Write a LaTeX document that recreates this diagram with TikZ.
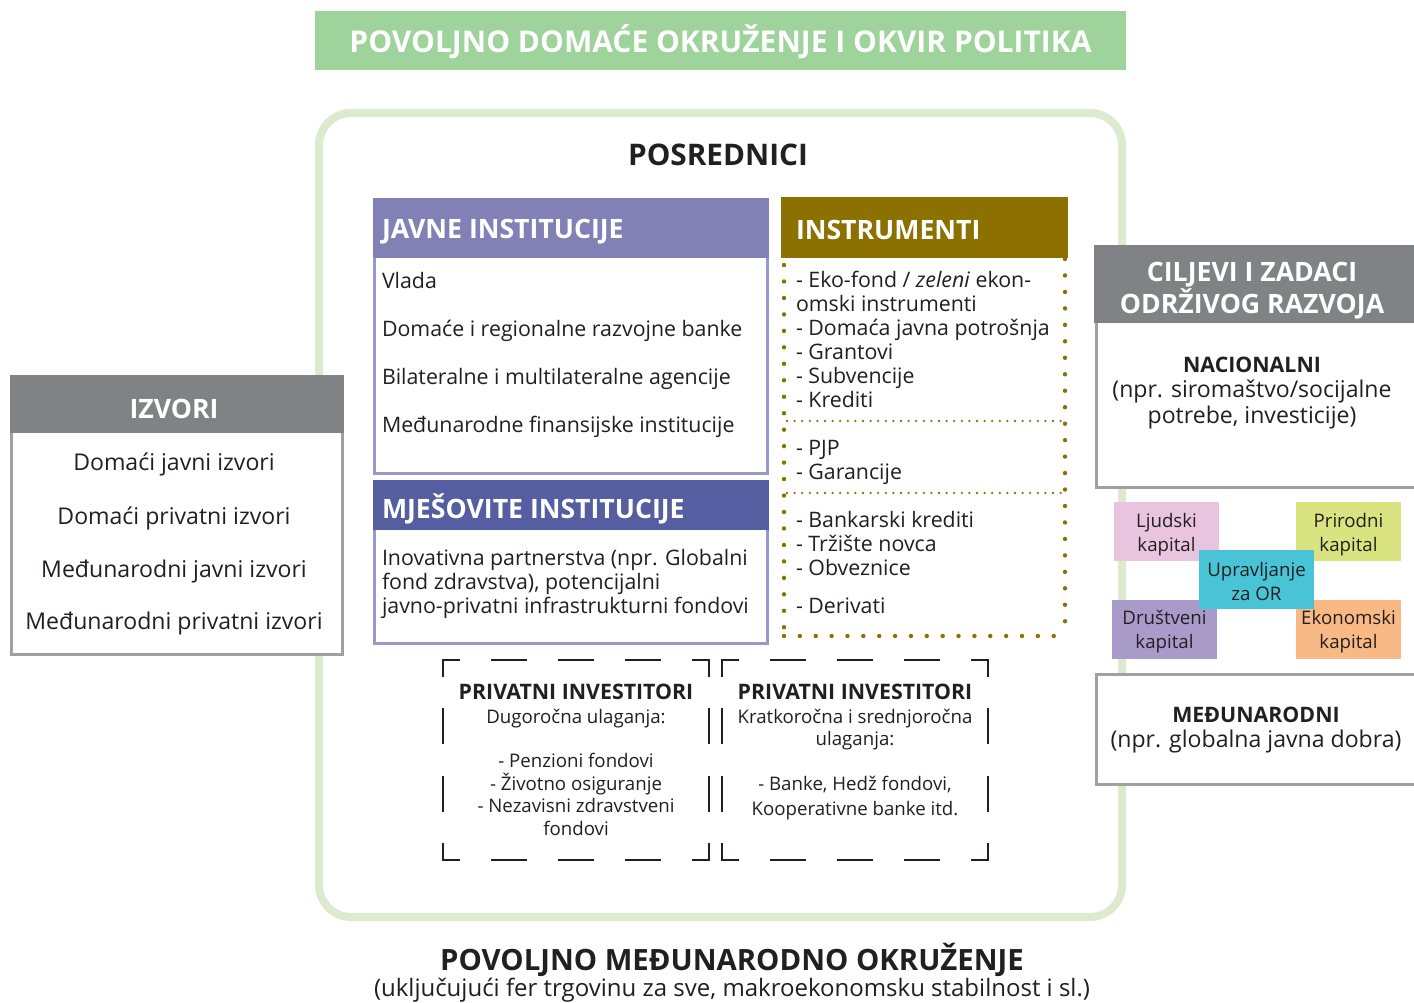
\documentclass[tikz,border=0pt]{standalone}
\usepackage{fontspec}
\setmainfont{Open Sans}
\definecolor{txt}{HTML}{231F20}
\definecolor{bannergreen}{HTML}{9ED39B}
\definecolor{framegreen}{HTML}{DCEBD0}
\definecolor{javnehead}{HTML}{8181B6}
\definecolor{javneline}{HTML}{9898CB}
\definecolor{mjeshead}{HTML}{545EA0}
\definecolor{instr}{HTML}{8C7000}
\definecolor{grayhead}{HTML}{808285}
\definecolor{grayline}{HTML}{A0A0A3}
\definecolor{ljud}{HTML}{E8C4DE}
\definecolor{prir}{HTML}{D9E380}
\definecolor{uprav}{HTML}{48C4D6}
\definecolor{drus}{HTML}{A99BC9}
\definecolor{ekon}{HTML}{F9B985}
\tikzset{
  txtnode/.style={inner sep=0pt, outer sep=0pt, text=txt},
  body/.style={txtnode, font=\fontsize{16}{18}\selectfont},
  smalltxt/.style={txtnode, font=\fontsize{14}{17}\selectfont},
  midtxt/.style={txtnode, font=\fontsize{17.3}{20}\selectfont},
  midbold/.style={txtnode, font=\fontsize{16}{20}\selectfont\bfseries},
  boxhead/.style={inner sep=0pt, outer sep=0pt, text=white, font=\fontsize{20}{24}\selectfont\bfseries},
  captxt/.style={txtnode, align=center, font=\fontsize{14}{18}\selectfont},
  bigdots/.style={instr, line width=3.3pt, line cap=round},
  smalldots/.style={instr, line width=1.9pt, line cap=round, dash pattern=on 0pt off 5.7pt},
  dashside/.style={txt, line width=1.5pt, line cap=rect},
  hdash/.style={dashside, dash pattern=on 12pt off 24.75pt on 25.5pt off 24.75pt on 25.5pt off 24.75pt on 25.5pt off 24.75pt on 12pt off 100pt},
  vdash/.style={dashside, dash pattern=on 12pt off 25pt on 25.5pt off 25pt on 25.5pt off 25pt on 12pt off 100pt},
}
\newcommand\mydashbox[4]{%
  \draw[hdash] (#1,#2) -- (#3,#2);
  \draw[hdash] (#1,#4) -- (#3,#4);
  \draw[vdash] (#1,#2) -- (#1,#4);
  \draw[vdash] (#3,#2) -- (#3,#4);
}
\begin{document}
\begin{tikzpicture}[x=0.75pt,y=-0.75pt]
\useasboundingbox (0,0) rectangle (1414,1003);
\fill[white] (0,0) rectangle (1414,1003);

% top banner
\fill[bannergreen] (315,11) rectangle (1126,70);
\node[inner sep=0pt, text=white, anchor=base, font=\fontsize{22.5}{24}\selectfont\bfseries] (banner) at (720.5,52) {POVOLJNO DOMAĆE OKRUŽENJE I OKVIR POLITIKA};

% frame
\draw[framegreen, line width=6pt, rounded corners=24pt] (319,113) rectangle (1122,917);
\node[txtnode, anchor=base, font=\fontsize{22.3}{24}\selectfont\bfseries] (posr) at (718,165) {POSREDNICI};

% JAVNE INSTITUCIJE
\draw[javneline, line width=2.25pt, fill=white] (374.5,199.5) rectangle (767.5,473.5);
\fill[javnehead] (373,198) rectangle (769,258);
\node[boxhead, anchor=base west] (javneh) at (382,238) {JAVNE INSTITUCIJE};
\node[body, anchor=base west] (j1) at (382,288) {Vlada};
\node[body, anchor=base west] (j2) at (382,336) {Domaće i regionalne razvojne banke};
\node[body, anchor=base west] (j3) at (382,384) {Bilateralne i multilateralne agencije};
\node[body, anchor=base west] (j4) at (382,432) {Međunarodne finansijske institucije};

% MJESOVITE
\draw[javneline, line width=2.25pt, fill=white] (374.5,481.5) rectangle (767.5,643.5);
\fill[mjeshead] (373,480) rectangle (769,530);
\node[boxhead, anchor=base west] (mjesh) at (382,518) {MJEŠOVITE INSTITUCIJE};
\node[body, anchor=base west] (m1) at (382,565) {Inovativna partnerstva (npr. Globalni};
\node[body, anchor=base west] (m2) at (382,589) {fond zdravstva), potencijalni};
\node[body, anchor=base west] (m3) at (382,613) {javno-privatni infrastrukturni fondovi};

% INSTRUMENTI
\fill[instr] (781,197) rectangle (1068,258);
\node[boxhead, anchor=base west] (instrh) at (796,239) {INSTRUMENTI};
\draw[bigdots, dash pattern=on 0pt off 12.35pt] (784,265) -- (784,636);
\draw[bigdots, dash pattern=on 0pt off 12.35pt] (1065,259) -- (1065,636);
\draw[bigdots, dash pattern=on 0pt off 11.9pt] (784,636) -- (1065,636);
\draw[smalldots] (787,421) -- (1062,421);
\draw[smalldots] (787,493) -- (1062,493);
\node[body, anchor=base west] (i1) at (796,287) {- Eko-fond / \textit{zeleni} ekon-};
\node[body, anchor=base west] (i2) at (796,311) {omski instrumenti};
\node[body, anchor=base west] (i3) at (796,335) {- Domaća javna potrošnja};
\node[body, anchor=base west] (i4) at (796,359) {- Grantovi};
\node[body, anchor=base west] (i5) at (796,383) {- Subvencije};
\node[body, anchor=base west] (i6) at (796,407) {- Krediti};
\node[body, anchor=base west] (i7) at (796,455) {- PJP};
\node[body, anchor=base west] (i8) at (796,479) {- Garancije};
\node[body, anchor=base west] (i9) at (796,527) {- Bankarski krediti};
\node[body, anchor=base west] (i10) at (796,551) {- Tržište novca};
\node[body, anchor=base west] (i11) at (796,575) {- Obveznice};
\node[body, anchor=base west] (i12) at (796,613) {- Derivati};

% IZVORI
\draw[grayline, line width=2.25pt, fill=white] (11.5,376.5) rectangle (342.5,654.5);
\fill[grayhead] (10,375) rectangle (344,433);
\node[boxhead, anchor=base] (izh) at (174,418) {IZVORI};
\node[midtxt, anchor=base] (z1) at (174,470) {Domaći javni izvori};
\node[midtxt, anchor=base] (z2) at (174,524) {Domaći privatni izvori};
\node[midtxt, anchor=base] (z3) at (174,577) {Međunarodni javni izvori};
\node[midtxt, anchor=base] (z4) at (174,629) {Međunarodni privatni izvori};

% CILJEVI
\fill[white] (1096.5,246) rectangle (1414,487.5);
\draw[grayline, line width=2.25pt] (1414,487.5) -- (1096.5,487.5) -- (1096.5,246);
\fill[grayhead] (1094,245) rectangle (1414,323);
\node[boxhead, anchor=base] (c1) at (1252,281) {CILJEVI I ZADACI};
\node[boxhead, anchor=base] (c2) at (1252,313) {ODRŽIVOG RAZVOJA};
\node[midbold, anchor=base] (nac) at (1252,372) {NACIONALNI};
\node[midtxt, anchor=base] (nac1) at (1252,397) {(npr. siromaštvo/socijalne};
\node[midtxt, anchor=base] (nac2) at (1252,423) {potrebe, investicije)};

% capitals
\fill[ljud] (1114,502) rectangle (1219,561);
\node[captxt] (ljudski) at (1166.5,534.5) {Ljudski\\kapital};
\fill[prir] (1296,502) rectangle (1401,561);
\node[captxt] (prirodni) at (1348.5,534.5) {Prirodni\\kapital};
\fill[drus] (1112,600) rectangle (1217,659);
\node[captxt] (drustveni) at (1164.5,632) {Društveni\\kapital};
\fill[ekon] (1296,600) rectangle (1401,659);
\node[captxt] (ekonomski) at (1348.5,632) {Ekonomski\\kapital};
\fill[uprav] (1199,550) rectangle (1314,609);
\node[captxt] (upravljanje) at (1256.5,581) {Upravljanje\\za OR};

% MEDUNARODNI
\fill[white] (1096.5,674) rectangle (1414,784);
\draw[grayline, line width=2.25pt] (1414,674) -- (1096.5,674) -- (1096.5,784) -- (1414,784);
\node[midbold, anchor=base] (med) at (1256,722) {MEĐUNARODNI};
\node[midtxt, anchor=base] (med1) at (1256,747) {(npr. globalna javna dobra)};

% private investors
\mydashbox{443}{660}{709}{860}
\mydashbox{722}{660}{988}{860}
\node[midbold, anchor=base] (p1) at (576,699) {PRIVATNI INVESTITORI};
\node[smalltxt, anchor=base] (p1a) at (576,723) {Dugoročna ulaganja:};
\node[smalltxt, anchor=base] (p1b) at (576,767) {- Penzioni fondovi};
\node[smalltxt, anchor=base] (p1c) at (576,790) {- Životno osiguranje};
\node[smalltxt, anchor=base] (p1d) at (576,812) {- Nezavisni zdravstveni};
\node[smalltxt, anchor=base] (p1e) at (576,835) {fondovi};
\node[midbold, anchor=base] (p2) at (855,699) {PRIVATNI INVESTITORI};
\node[smalltxt, anchor=base] (p2a) at (855,723) {Kratkoročna i srednjoročna};
\node[smalltxt, anchor=base] (p2b) at (855,745) {ulaganja:};
\node[smalltxt, anchor=base] (p2c) at (855,790) {- Banke, Hedž fondovi,};
\node[smalltxt, anchor=base] (p2d) at (855,815) {Kooperativne banke itd.};

% bottom
\node[txtnode, anchor=base, font=\fontsize{22}{24}\selectfont\bfseries] (bt) at (732,970) {POVOLJNO MEĐUNARODNO OKRUŽENJE};
\node[txtnode, anchor=base, font=\fontsize{18}{20}\selectfont] (bs) at (732,996) {(uključujući fer trgovinu za sve, makroekonomsku stabilnost i sl.)};
\end{tikzpicture}
\end{document}
